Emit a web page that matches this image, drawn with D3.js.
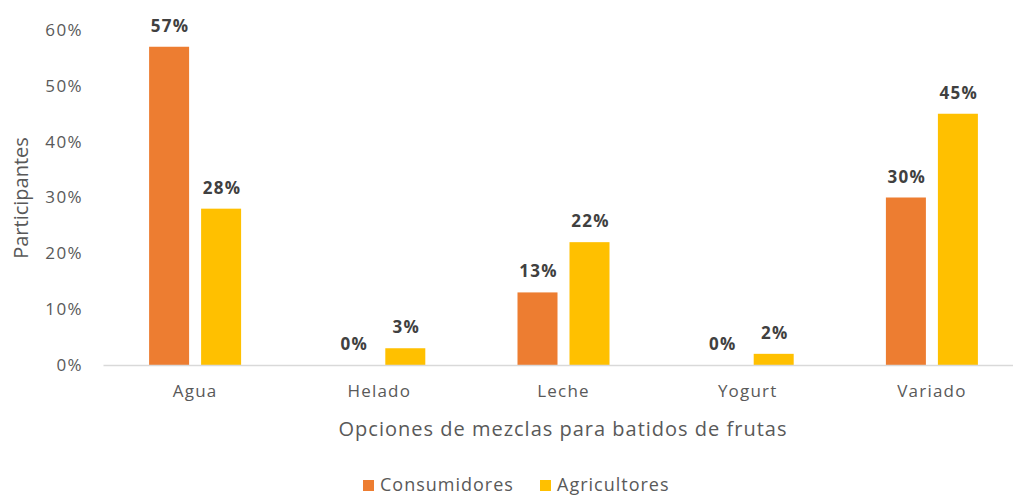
<!DOCTYPE html>
<html>
<head>
<meta charset="utf-8">
<script src="https://cdn.jsdelivr.net/npm/d3@7"></script>
<style>
  body { margin: 0; background: #fff; }
  svg { display: block; font-family: "Open Sans", "Noto Sans", sans-serif; }
</style>
</head>
<body>
<div id="chart"></div>
<script>
const categories = ["Agua", "Helado", "Leche", "Yogurt", "Variado"];
const seriesNames = ["Consumidores", "Agricultores"];
const consumidores = [57, 0, 13, 0, 30];
const agricultores = [28, 3, 22, 2, 45];
const yTicks = [0, 10, 20, 30, 40, 50, 60];
const colors = ["#ED7D31", "#FFC000"];

const width = 1013;
const height = 497;
const margin = { top: 30, right: -11, bottom: 132, left: 103 };

const svg = d3.select("#chart").append("svg")
    .attr("width", width)
    .attr("height", height);

const x = d3.scaleBand()
    .domain(categories)
    .range([margin.left, width - margin.right]);

const y = d3.scaleLinear()
    .domain([0, 60])
    .range([height - margin.bottom, margin.top]);

const barW = 40, barGap = 12;
const series = [consumidores, agricultores];

// y axis labels, no line
const yAxis = svg.append("g")
    .attr("transform", `translate(${margin.left}, 0)`)
    .call(d3.axisLeft(y).tickValues(yTicks).tickFormat(d => d + "%").tickSize(0).tickPadding(20));
yAxis.select(".domain").remove();
yAxis.selectAll("text")
    .attr("fill", "#595959")
    .style("font-size", "17px")
    .style("letter-spacing", "1.4px")
    .style("font-family", "Open Sans, sans-serif");

// bars
series.forEach((vals, si) => {
    const offset = si === 0 ? -barGap / 2 - barW : barGap / 2;
    const g = svg.append("g");
    g.selectAll("rect")
        .data(categories)
        .join("rect")
        .attr("x", (d) => x(d) + x.bandwidth() / 2 + offset)
        .attr("y", (d, i) => y(vals[i]))
        .attr("width", barW)
        .attr("height", (d, i) => y(0) - y(vals[i]))
        .attr("fill", colors[si]);
    g.selectAll("text")
        .data(categories)
        .join("text")
        .attr("x", (d) => x(d) + x.bandwidth() / 2 + offset + barW / 2 + 1)
        .attr("y", (d, i) => y(vals[i]) - 15)
        .attr("text-anchor", "middle")
        .attr("fill", "#404040")
        .style("font-size", "17px")
        .style("letter-spacing", "1.3px")
        .style("font-weight", "bold")
        .text((d, i) => vals[i] + "%");
});

// x axis
const xAxis = svg.append("g")
    .attr("transform", `translate(0, ${y(0)})`)
    .call(d3.axisBottom(x).tickSize(0).tickPadding(20));
xAxis.select(".domain").attr("stroke", "#d9d9d9").attr("stroke-width", 1.5);
xAxis.selectAll("text")
    .attr("fill", "#595959")
    .style("font-size", "17px")
    .style("letter-spacing", "1.2px")
    .style("font-family", "Open Sans, sans-serif");

// axis titles
svg.append("text")
    .attr("x", 563)
    .attr("y", 436)
    .attr("text-anchor", "middle")
    .attr("fill", "#595959")
    .style("font-size", "20px")
    .style("letter-spacing", "1px")
    .text("Opciones de mezclas para batidos de frutas");

svg.append("text")
    .attr("transform", `translate(28, 198) rotate(-90)`)
    .attr("text-anchor", "middle")
    .attr("fill", "#595959")
    .style("font-size", "20px")
    .text("Participantes");

// legend
const legend = svg.append("g");
const legendX = [363, 540];
seriesNames.forEach((name, i) => {
    legend.append("rect")
        .attr("x", legendX[i])
        .attr("y", 480)
        .attr("width", 11)
        .attr("height", 11)
        .attr("fill", colors[i]);
    legend.append("text")
        .attr("x", legendX[i] + 17)
        .attr("y", 491)
        .attr("fill", "#595959")
        .style("font-size", "18px")
        .style("letter-spacing", "1px")
        .text(name);
});
</script>
</body>
</html>
